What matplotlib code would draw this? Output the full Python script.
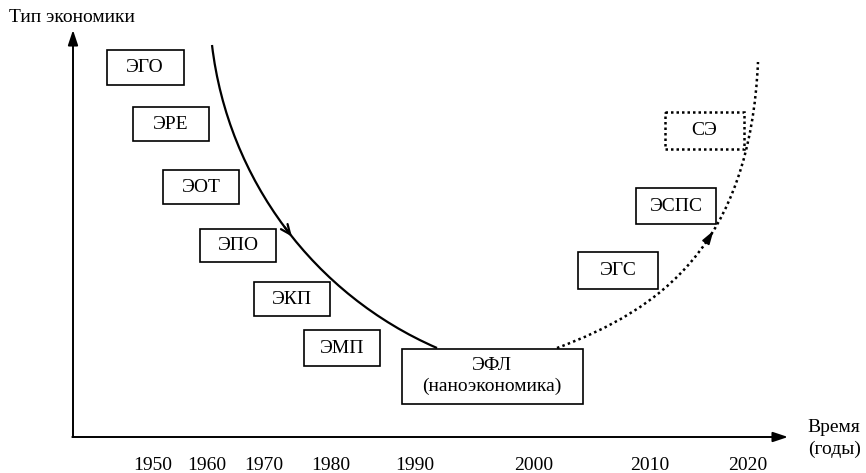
import matplotlib
matplotlib.use("Agg")
import matplotlib.pyplot as plt
from matplotlib.patches import Rectangle, PathPatch
from matplotlib.path import Path
from matplotlib.bezier import BezierSegment

plt.rcParams["font.family"] = ["Liberation Serif", "DejaVu Serif"]

# x-axis tick labels (years) and where they sit on the schematic time axis
years = ["1950", "1960", "1970", "1980", "1990", "2000", "2010", "2020"]
year_x = [153, 207, 264, 331, 415, 534, 650, 748]

# economy-type boxes: label, centre x, centre y, width, height
box_labels = ["ЭГО", "ЭРЕ", "ЭОТ", "ЭПО", "ЭКП", "ЭМП", "ЭФЛ\n(наноэкономика)", "ЭГС", "ЭСПС", "СЭ"]
box_cx = [145, 171, 201, 238, 292, 342, 492, 618, 676, 704]
box_cy = [68, 124, 187, 245, 299, 348, 376, 270, 206, 130]
box_w = [77, 76, 76, 76, 76, 76, 181, 80, 80, 79]
box_h = [35, 34, 34, 33, 34, 36, 55, 37, 36, 37]
box_dotted = [False] * 9 + [True]

# control points of the two trend curves (pixel space)
solid_ctrl = [(212, 45), (228, 180), (315, 295), (437, 348)]
dotted_ctrl = [(557, 348), (660, 310), (750, 245), (758, 62)]

FS = 14

fig = plt.figure(figsize=(8.66, 4.73), dpi=100)
ax = fig.add_axes([0, 0, 1, 1])
ax.set_xlim(0, 866)
ax.set_ylim(473, 0)
ax.axis("off")

# axes with arrows
axis_kw = dict(arrowstyle="-|>,head_length=0.9,head_width=0.3", lw=1.4, color="black",
               shrinkA=0, shrinkB=0)
ax.annotate("", xy=(73, 30), xytext=(73, 437), arrowprops=axis_kw)
ax.annotate("", xy=(788, 437), xytext=(72.3, 437), arrowprops=axis_kw)

ax.text(9, 18, "Тип экономики", fontsize=FS, ha="left", va="center")
ax.text(834, 427, "Время", fontsize=FS, ha="center", va="center")
ax.text(835, 449, "(годы)", fontsize=FS, ha="center", va="center")

for lab, x in zip(years, year_x):
    ax.text(x, 465, lab, fontsize=FS, ha="center", va="center")

# boxes
for lab, cx, cy, w, h, dot in zip(box_labels, box_cx, box_cy, box_w, box_h, box_dotted):
    ax.add_patch(Rectangle((cx - w / 2, cy - h / 2), w, h, fill=False, ec="black",
                           lw=1.8 if dot else 1.2, ls=(0, (1, 1.2)) if dot else "-", zorder=3))
    ax.text(cx, cy, lab, fontsize=FS, ha="center", va="center", linespacing=1.25, zorder=4)

# trend curves
codes = [Path.MOVETO, Path.CURVE4, Path.CURVE4, Path.CURVE4]
ax.add_patch(PathPatch(Path(solid_ctrl, codes), fill=False, lw=1.6, ec="black"))
ax.add_patch(PathPatch(Path(dotted_ctrl, codes), fill=False, lw=1.8, ec="black",
                       ls=(0, (1, 1.3))))

# direction arrows on the curves
seg = BezierSegment(solid_ctrl)
ax.annotate("", xy=seg.point_at_t(0.53), xytext=seg.point_at_t(0.50),
            arrowprops=dict(arrowstyle="->,head_length=0.7,head_width=0.3", lw=1.6,
                            color="black", shrinkA=0, shrinkB=0))
seg = BezierSegment(dotted_ctrl)
ax.annotate("", xy=seg.point_at_t(0.6), xytext=seg.point_at_t(0.56),
            arrowprops=dict(arrowstyle="-|>,head_length=0.8,head_width=0.25", lw=1.2,
                            color="black", shrinkA=0, shrinkB=0))

fig.savefig("out.png", dpi=100)
